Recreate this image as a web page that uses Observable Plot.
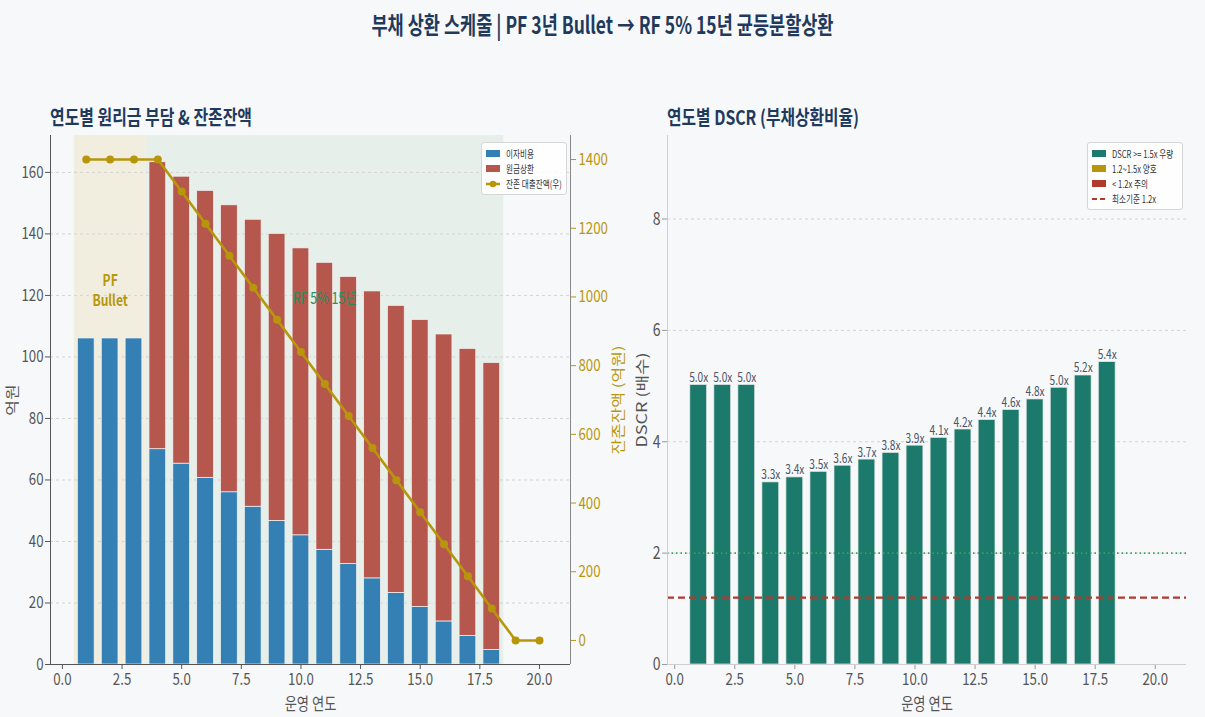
<!DOCTYPE html>
<html><head><meta charset="utf-8">
<script src="https://cdn.jsdelivr.net/npm/d3@7"></script>
<script src="https://cdn.jsdelivr.net/npm/@observablehq/plot@0.6"></script>
<style>
html,body{margin:0;padding:0;background:#f7f8fa;}
#root{position:relative;width:1205px;height:717px;overflow:hidden;font-family:"Noto Sans CJK KR","Noto Sans",sans-serif;background:#f7f8fa;}
.abs{position:absolute;}
.fit{display:inline-block;white-space:nowrap;}
#title{left:0;top:7px;width:1205px;text-align:center;font-size:24px;font-weight:700;color:#1f3a5c;line-height:34px;}
#title .fit{transform-origin:center center;}
.sub{font-size:20px;font-weight:700;color:#1f3a5c;line-height:26px;white-space:nowrap;}
.sub .fit{transform-origin:left center;}
.legend{background:rgba(255,255,255,0.85);border:1px solid #d6d6d6;border-radius:3px;box-sizing:border-box;padding:3px 4px;font-size:10px;color:#333;overflow:hidden;}
.row{display:flex;align-items:center;height:15px;white-space:nowrap;}
.sw{width:14px;height:7px;margin-right:6px;flex:none;display:flex;align-items:center;}
.sw svg{display:block;position:static;}
.row span{display:inline-block;transform:scaleX(0.76);transform-origin:left center;line-height:15px;}
svg.chart{position:absolute;overflow:visible;}
</style></head>
<body><div id="root">
<div id="title" class="abs"><span class="fit" data-w="462">부채 상환 스케줄 | PF 3년 Bullet → RF 5% 15년 균등분할상환</span></div>
<div class="abs sub" style="left:50px;top:104px"><span class="fit" data-w="202">연도별 원리금 부담 &amp; 잔존잔액</span></div>
<div class="abs sub" style="left:667px;top:104px"><span class="fit" data-w="192">연도별 DSCR (부채상환비율)</span></div>
</div>
<script>
// ---------- data ----------
const years = [1,2,3,4,5,6,7,8,9,10,11,12,13,14,15,16,17,18];
const interest = [106,106,106,70,65.3,60.7,56,51.3,46.7,42,37.3,32.7,28,23.3,18.7,14,9.3,4.7];
const principal = [0,0,0,93.3,93.3,93.3,93.3,93.3,93.3,93.3,93.3,93.3,93.3,93.3,93.3,93.3,93.3,93.3];
const balanceYears = [1,2,3,4,5,6,7,8,9,10,11,12,13,14,15,16,17,18,19,20];
const balance = [1400,1400,1400,1400,1306.7,1213.3,1120,1026.7,933.3,840,746.7,653.3,560,466.7,373.3,280,186.7,93.3,0,0];
const dscr = [5.02,5.02,5.02,3.27,3.36,3.46,3.57,3.68,3.80,3.93,4.07,4.22,4.39,4.57,4.76,4.97,5.19,5.43];
const seriesNames = ["이자비용","원금상환","잔존 대출잔액(우)"];
const dscrLegend = ["DSCR >= 1.5x 우량","1.2~1.5x 양호","< 1.2x 주의","최소기준 1.2x"];
const phaseNames = ["PF\nBullet","RF 5% 15년"];
const phaseStart = [0.5,3.5];
const phaseEnd = [3.5,18.5];
const leftTicks = [0,20,40,60,80,100,120,140,160];
const rightTicks = [0,200,400,600,800,1000,1200,1400];
const xTicks = [0,2.5,5,7.5,10,12.5,15,17.5,20];
const dscrTicks = [0,2,4,6,8];
const dscrMin = 1.2, dscrRef = 2.0;

// ---------- styles ----------
const C = {blue:"#3480b4", red:"#b5574d", gold:"#b8960c", teal:"#1b7a6b", amber:"#b8960c", crimson:"#b03a2e",
  beige:"#f1eedf", mint:"#e6efea", grid:"#d4d4d4", text:"#555", navy:"#1f3a5c"};
const FONT = '"Noto Sans CJK KR","Noto Sans",sans-serif';
const S = 0.78;
// squeeze every text horizontally (screen space) around its anchor point
function squeeze(svg, s){
  svg.querySelectorAll("text").forEach(t=>{
    const tr = t.getAttribute("transform")||"";
    const m = tr.match(/^\s*translate\([^)]*\)/);
    if (m) {
      t.setAttribute("transform", `${m[0]} scale(${s},1) ${tr.slice(m[0].length)}`);
    } else {
      const x = +(t.getAttribute("x")||0);
      t.setAttribute("transform", `translate(${x},0) scale(${s},1) translate(${-x},0) ${tr}`);
    }
  });
}
const root = document.getElementById("root");
function place(svg, left, top){ svg.classList.add("chart"); svg.style.left = left+"px"; svg.style.top = top+"px"; root.appendChild(svg); }

// ---------- left chart ----------
const stackRows = years.flatMap((yr,i)=>[
  {year:yr, series:seriesNames[0], y1:0, y2:interest[i]},
  {year:yr, series:seriesNames[1], y1:interest[i], y2:interest[i]+principal[i]}
]).filter(d=>d.y2>d.y1);
const phases = phaseNames.map((n,i)=>({name:n, start:phaseStart[i], end:phaseEnd[i]}));
const W1 = 630, H = 592, MT = 10, MB = 53, TOP = 125;
const xDomL = [-0.5, 21.3], yDomL = [0, 172];

const left = Plot.plot({
  width: W1, height: H, marginLeft: 50, marginRight: 60, marginTop: MT, marginBottom: MB,
  style: {background:"transparent", fontFamily: FONT, fontSize:"17px", color: C.text},
  x: {domain: xDomL},
  y: {domain: yDomL},
  color: {domain: seriesNames.slice(0,2), range: [C.blue, C.red]},
  marks: [
    Plot.rect(phases, {x1:"start", x2:"end", y1: yDomL[0], y2: yDomL[1], fill: (d,i)=> i===0 ? C.beige : C.mint}),
    Plot.gridY(leftTicks, {stroke: C.grid, strokeOpacity: 1, strokeDasharray: "3,3"}),
    Plot.rect(stackRows, {x1: d=>d.year-0.35, x2: d=>d.year+0.35, y1:"y1", y2:"y2", fill:"series", stroke:"#f4f4f4", strokeWidth:0.7}),
    Plot.text([phases[0]], {x: 2, y: 122, text:"name", fill: C.gold, fontSize: 15.5, fontWeight: 600, lineHeight: 1.32}),
    Plot.text([phases[1]], {x: 11, y: 119, text:"name", fill: "#2e8b57", fontSize: 16}),
    Plot.axisX({ticks: xTicks, tickFormat: d=>d.toFixed(1), tickSize: 5, tickPadding: 3, label: "운영 연도", labelAnchor: "center", labelArrow: "none", labelOffset: 45}),
    Plot.axisY({ticks: leftTicks, tickSize: 5, tickPadding: 2, label: "억원", labelAnchor: "center", labelArrow: "none", labelOffset: 43}),
    Plot.ruleX([xDomL[0]], {stroke:"#555", strokeWidth: 1}),
    Plot.ruleX([xDomL[1]], {stroke:"#888", strokeWidth: 1}),
    Plot.ruleY([yDomL[0]], {stroke:"#555", strokeWidth: 1})
  ]
});
squeeze(left, S);
place(left, 0, TOP);

const balRows = balanceYears.map((yr,i)=>({year:yr, value:balance[i]}));
const leftR = Plot.plot({
  width: W1, height: H, marginLeft: 50, marginRight: 60, marginTop: MT, marginBottom: MB,
  style: {background:"transparent", fontFamily: FONT, fontSize:"17px", color: C.gold},
  x: {domain: xDomL, axis: null},
  y: {domain: [-70, 1470]},
  marks: [
    Plot.axisY({anchor:"right", ticks: rightTicks, tickFormat: d=>String(d), tickSize: 5, tickPadding: 3, label: "잔존잔액 (억원)", labelAnchor:"center", labelArrow:"none", labelOffset: 52, color: C.gold, fontSize: 17}),
    Plot.line(balRows, {x:"year", y:"value", stroke: C.gold, strokeWidth: 2.6}),
    Plot.dot(balRows, {x:"year", y:"value", r: 4, fill: C.gold})
  ]
});
squeeze(leftR, S);
place(leftR, 0, TOP);

// ---------- right chart ----------
const dscrRows = years.map((yr,i)=>({year:yr, v:dscr[i]}));
const xDomR = [-0.3, 21.3], yDomR = [0, 9.5];
const W2 = 585;
const right = Plot.plot({
  width: W2, height: H, marginLeft: 47, marginRight: 19, marginTop: MT, marginBottom: MB,
  style: {background:"transparent", fontFamily: FONT, fontSize:"17px", color: C.text},
  x: {domain: xDomR},
  y: {domain: yDomR},
  marks: [
    Plot.gridY(dscrTicks.filter(d=>d>0), {stroke: C.grid, strokeOpacity: 1, strokeDasharray: "3,3"}),
    Plot.rect(dscrRows, {x1: d=>d.year-0.35, x2: d=>d.year+0.35, y1: 0, y2: "v",
      fill: d=> d.v>=1.5 ? C.teal : d.v>=1.2 ? C.amber : C.crimson, stroke:"#e8e8e8", strokeWidth: 0.7}),
    Plot.ruleY([dscrRef], {stroke:"#3aa35a", strokeWidth: 1.6, strokeDasharray:"1.5,3"}),
    Plot.ruleY([dscrMin], {stroke: C.crimson, strokeWidth: 2.2, strokeDasharray:"7,4"}),
    Plot.text(dscrRows, {x:"year", y:"v", text: d=>d.v.toFixed(1)+"x", dy: -3, lineAnchor:"bottom", fill:"#4a5568", fontSize: 13}),
    Plot.axisX({ticks: xTicks, tickFormat: d=>d.toFixed(1), tickSize: 5, tickPadding: 3, label: "운영 연도", labelAnchor:"center", labelArrow:"none", labelOffset: 45, stroke:"#999"}),
    Plot.axisY({ticks: dscrTicks, tickSize: 5, tickPadding: 2, label: "DSCR (배수)", labelAnchor:"center", labelArrow:"none", labelOffset: 30, stroke:"#999", fontSize: 18}),
    Plot.ruleX([xDomR[0]], {stroke:"#cfcfcf", strokeWidth: 1}),
    Plot.ruleY([yDomR[0]], {stroke:"#cfcfcf", strokeWidth: 1})
  ]
});
squeeze(right, S);
place(right, 620, TOP);

// ---------- legends ----------
function legend(left, top, width, items){
  const d = document.createElement("div");
  d.className = "abs legend";
  d.style.left = left+"px"; d.style.top = top+"px"; d.style.width = width+"px";
  items.forEach(it=>{
    const r = document.createElement("div"); r.className = "row";
    const sw = document.createElement("div"); sw.className = "sw";
    if (it.kind === "rect") { sw.style.background = it.color; }
    else if (it.kind === "line") {
      sw.style.height = "10px";
      sw.innerHTML = `<svg width="14" height="10"><line x1="0" x2="14" y1="5" y2="5" stroke="${it.color}" stroke-width="2.5"/><circle cx="7" cy="5" r="3.3" fill="${it.color}"/></svg>`;
    } else {
      sw.style.height = "4px";
      sw.innerHTML = `<svg width="14" height="4"><line x1="0" x2="14" y1="2" y2="2" stroke="${it.color}" stroke-width="2" stroke-dasharray="5,3"/></svg>`;
    }
    const s = document.createElement("span"); s.textContent = it.label;
    r.appendChild(sw); r.appendChild(s); d.appendChild(r);
  });
  root.appendChild(d);
}
legend(481, 142, 86, [
  {kind:"rect", color:C.blue, label:seriesNames[0]},
  {kind:"rect", color:C.red, label:seriesNames[1]},
  {kind:"line", color:C.gold, label:seriesNames[2]}
]);
legend(1087, 142, 96, [
  {kind:"rect", color:C.teal, label:dscrLegend[0]},
  {kind:"rect", color:C.amber, label:dscrLegend[1]},
  {kind:"rect", color:C.crimson, label:dscrLegend[2]},
  {kind:"dash", color:C.crimson, label:dscrLegend[3]}
]);

// ---------- fit html titles ----------
document.querySelectorAll(".fit").forEach(el=>{
  const w = el.getBoundingClientRect().width;
  const target = +el.dataset.w;
  el.style.transform = `scaleX(${target/w})`;
});
</script>
</body></html>
